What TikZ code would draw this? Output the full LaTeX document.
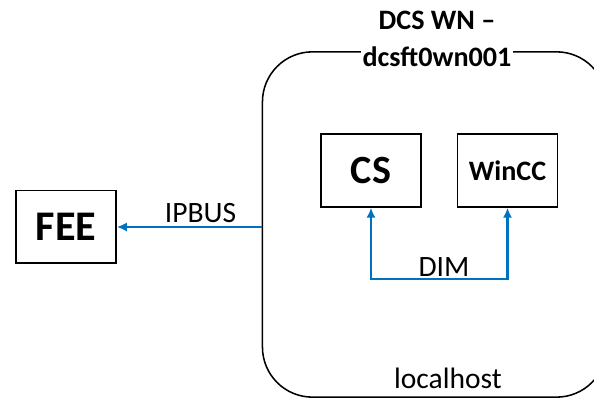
\documentclass[tikz,border=0pt]{standalone}
\usepackage{fontspec}
\setmainfont{Carlito}
\usetikzlibrary{
    positioning,
    arrows.meta
}
\definecolor{dimblue}{RGB}{0,112,192}
\tikzset{
  box/.style = {
      draw,
      line width=1.3pt,
      rectangle,
      minimum width=2.5cm,
      minimum height=1.82cm,
      inner sep=0pt,
      font=\bfseries
  },
  host/.style = {
      draw,
      line width=1.1pt,
      rectangle,
      rounded corners=1.25cm,
      minimum width=8.6cm,
      minimum height=8.63cm
  },
  link/.style = {
      draw=dimblue,
      line width=2pt,
      -{Latex[length=7pt,width=6.5pt]}
  },
  tag/.style = {
      font=\fontsize{21}{24}\selectfont,
      inner sep=0pt,
      anchor=base
  },
  title/.style = {
      font=\fontsize{20}{23}\selectfont\bfseries,
      inner sep=1pt,
      anchor=base
  }
}

\begin{document}
\begin{tikzpicture}[x=0.025cm, y=-0.025cm]
        \useasboundingbox (0,0) rectangle (594,398);
        \clip (0,0) rectangle (594,398);
        % Nodes
        \node[host] (host) at (434.5,224.5) {};
        \node[title, fill=white] (name) at (437,67) {dcsft0wn001};
        \node[title] (wn) at (437,30) {DCS WN --};
        \node[box, font=\fontsize{30}{34}\selectfont\bfseries] (fee) at (66,227) {FEE};
        \node[box, font=\fontsize{28.5}{32}\selectfont\bfseries] (cs) at (371,170.5) {CS};
        \node[box, font=\fontsize{20}{23}\selectfont\bfseries] (wincc) at (507.5,170.5) {WinCC};
        \node[tag] (ipbus) at (200.5,223) {IPBUS};
        \node[tag] (dimlabel) at (444,277) {DIM};
        \node[tag] (local) at (448,389) {localhost};
        \coordinate (dim) at (444,279);
        % Edges
        \draw[link] (fee.east -| host.west) -- (fee);
        \draw[link, {Latex[length=7pt,width=6.5pt]}-{Latex[length=7pt,width=6.5pt]}]
        (cs.south) |- (dim) -| (wincc.south);
    \end{tikzpicture}
\end{document}
